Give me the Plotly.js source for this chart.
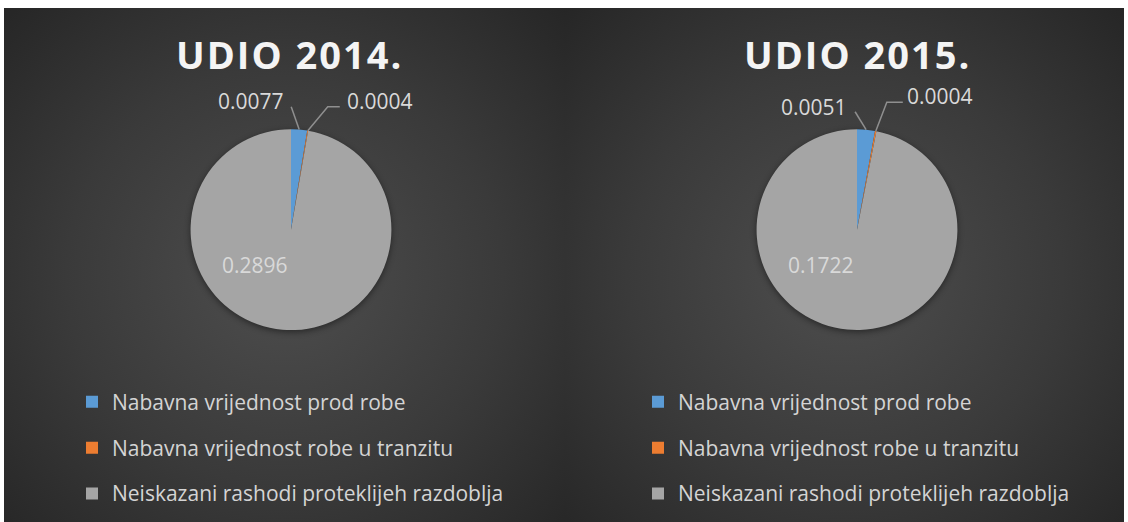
<!DOCTYPE html>
<html>
<head>
<meta charset="utf-8">
<script src="https://cdn.plot.ly/plotly-3.0.1.min.js"></script>
<style>
  html, body { margin: 0; padding: 0; background: #ffffff; }
  #wrap { position: relative; width: 1128px; height: 522px; overflow: hidden; }
  .panel { position: absolute; top: 8px; height: 514px;
    background: radial-gradient(ellipse farthest-corner at 50% 52%, #4e4e4e 0%, #3a3a3a 55%, #262626 100%); }
  #p1 { left: 4px; width: 561px; }
  #p2 { left: 565px; width: 559px; }
  #chart { position: absolute; left: 0; top: 0; width: 1128px; height: 522px; }
  .pielayer { filter: drop-shadow(0px 2px 3px rgba(0,0,0,0.45)); }
</style>
</head>
<body>
<div id="wrap">
  <div class="panel" id="p1"></div>
  <div class="panel" id="p2"></div>
  <div id="chart"></div>
</div>
<script>
// ---- data ----
const categories = [
  'Nabavna vrijednost prod robe',
  'Nabavna vrijednost robe u tranzitu',
  'Neiskazani rashodi proteklijeh razdoblja'
];
const values2014 = [0.0077, 0.0004, 0.2896];
const values2015 = [0.0051, 0.0004, 0.1722];
const labels2014 = ['0.0077', '0.0004', '0.2896'];
const labels2015 = ['0.0051', '0.0004', '0.1722'];
const titles = ['UDIO 2014.', 'UDIO 2015.'];
const colors = ['#5b9bd5', '#ed7d31', '#a5a5a5'];

// ---- layout config (pixels) ----
const W = 1128, H = 522;
const panels = [
  { cx: 291, cy: 231, r: 101, titleX: 289, legendX: 72,
    blueOff: [-8, -23], blueTxt: [-5, -6],
    orgOff: [20, -24], orgLen: 12, orgTxt: [5, -6] },
  { cx: 857, cy: 231, r: 101, titleX: 857, legendX: 638,
    blueOff: [-11, -18], blueTxt: [-6, -5],
    orgOff: [11, -29], orgLen: 16, orgTxt: [2, -6] }
];
const px = x => x / W;
const py = y => 1 - y / H;

const series = [values2014, values2015];
const texts = [labels2014, labels2015];
const traces = [];
const annotations = [];
const shapes = [];
const lineColor = '#8f8f8f';
const labelFont = { family: 'Open Sans, sans-serif', size: 21, color: '#d9d9d9' };

series.forEach((vals, k) => {
  const p = panels[k];
  traces.push({
    type: 'pie',
    labels: categories.map(c => '<span style="font-size:21px;baseline-shift:5px">' + c + '</span>'),
    values: vals,
    sort: false,
    direction: 'clockwise',
    rotation: 0,
    textinfo: 'none',
    hoverinfo: 'label+value',
    marker: { colors: colors, line: { width: 0 } },
    domain: { x: [px(p.cx - p.r), px(p.cx + p.r)], y: [py(p.cy + p.r), py(p.cy - p.r)] },
    legend: k === 0 ? 'legend' : 'legend2',
    legendgroup: 'g' + k,
    showlegend: true
  });
  // slice mid-angle edge points from data
  const sum = vals.reduce((a, b) => a + b, 0);
  let cum = 0;
  const edges = vals.map(v => {
    const f = (cum + v / 2) / sum; cum += v;
    const a = 2 * Math.PI * f;
    return [p.cx + p.r * Math.sin(a), p.cy - p.r * Math.cos(a)];
  });
  // blue label
  const b0 = edges[0];
  const b1 = [b0[0] + p.blueOff[0], b0[1] + p.blueOff[1]];
  shapes.push({ type: 'line', xref: 'paper', yref: 'paper',
    x0: px(b0[0]), y0: py(b0[1]), x1: px(b1[0]), y1: py(b1[1]),
    line: { color: lineColor, width: 1.5 } });
  annotations.push({ xref: 'paper', yref: 'paper', x: px(b1[0] + p.blueTxt[0]), y: py(b1[1] + p.blueTxt[1]),
    xanchor: 'right', yanchor: 'middle', showarrow: false, text: texts[k][0], font: labelFont });
  // orange label (elbow)
  const o0 = edges[1];
  const o1 = [o0[0] + p.orgOff[0], o0[1] + p.orgOff[1]];
  const o2 = [o1[0] + p.orgLen, o1[1]];
  shapes.push({ type: 'path', xref: 'paper', yref: 'paper',
    path: 'M' + px(o0[0]) + ',' + py(o0[1]) + 'L' + px(o1[0]) + ',' + py(o1[1]) + 'L' + px(o2[0]) + ',' + py(o2[1]),
    line: { color: lineColor, width: 1.5 } });
  annotations.push({ xref: 'paper', yref: 'paper', x: px(o2[0] + p.orgTxt[0]), y: py(o2[1] + p.orgTxt[1]),
    xanchor: 'left', yanchor: 'middle', showarrow: false, text: texts[k][1], font: labelFont });
  // gray label inside
  annotations.push({ xref: 'paper', yref: 'paper', x: px(p.cx - 36), y: py(p.cy + 36),
    xanchor: 'center', yanchor: 'middle', showarrow: false, text: texts[k][2], font: labelFont });
  // title
  annotations.push({ xref: 'paper', yref: 'paper', x: px(p.titleX), y: py(54),
    xanchor: 'center', yanchor: 'middle', showarrow: false,
    text: '<span style="letter-spacing:2px">' + titles[k] + '</span>',
    font: { family: 'Open Sans, sans-serif', size: 38, color: '#f4f4f4', weight: 'bold' } });
});

const legendBase = {
  orientation: 'v', xanchor: 'left', yanchor: 'top', y: py(376),
  bgcolor: 'rgba(0,0,0,0)', borderwidth: 0,
  font: { family: 'Open Sans, sans-serif', size: 33, color: '#d4d4d4' },
  traceorder: 'normal'
};

const layout = {
  width: W, height: H,
  margin: { l: 0, r: 0, t: 0, b: 0 },
  paper_bgcolor: 'rgba(0,0,0,0)',
  plot_bgcolor: 'rgba(0,0,0,0)',
  showlegend: true,
  legend: Object.assign({}, legendBase, { x: px(panels[0].legendX) }),
  legend2: Object.assign({}, legendBase, { x: px(panels[1].legendX) }),
  annotations: annotations,
  shapes: shapes
};

Plotly.newPlot('chart', traces, layout, { displayModeBar: false, staticPlot: true });
</script>
</body>
</html>
